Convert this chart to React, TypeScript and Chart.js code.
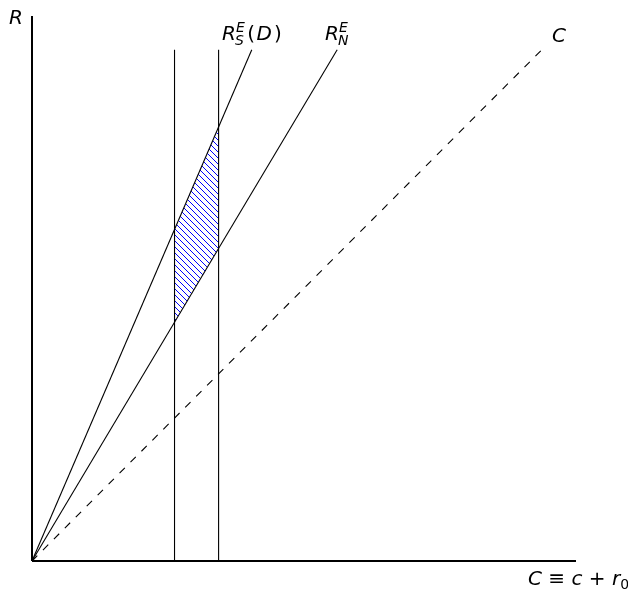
import React, { useEffect, useRef } from "react";
import { Chart, registerables } from "chart.js";

Chart.register(...registerables);

// ---- data (in chart units) ----
const xLimits = [0, 10];
const yLimits = [0, 10];
const axisXPts = [{ x: 0, y: 0 }, { x: 10, y: 0 }];
const axisYPts = [{ x: 0, y: 0 }, { x: 0, y: 10 }];
const lineRS = [{ x: 0, y: 0 }, { x: 4.04, y: 9.38 }];
const lineRN = [{ x: 0, y: 0 }, { x: 5.61, y: 9.38 }];
const lineC = [{ x: 0, y: 0 }, { x: 9.37, y: 9.38 }];
const vLineA = [{ x: 2.62, y: 0 }, { x: 2.62, y: 9.38 }];
const vLineB = [{ x: 3.43, y: 0 }, { x: 3.43, y: 9.38 }];
const hatchRegion = [
  { x: 2.62, y: 4.38 },
  { x: 2.62, y: 6.08 },
  { x: 3.43, y: 7.96 },
  { x: 3.43, y: 5.74 },
];

const FONT = '"DejaVu Sans"';

type Run = { t: string; size: number; italic?: boolean; dy?: number; sup?: string; sub?: string; gap?: number };

function drawRuns(ctx: CanvasRenderingContext2D, x: number, y: number, runs: Run[]) {
  let cx = x;
  for (const r of runs) {
    if (r.sup !== undefined || r.sub !== undefined) {
      let w = 0;
      ctx.font = `italic ${r.size}px ${FONT}`;
      if (r.sup) {
        ctx.fillText(r.sup, cx, y - 8);
        w = Math.max(w, ctx.measureText(r.sup).width);
      }
      if (r.sub) {
        ctx.fillText(r.sub, cx - 1, y + 5);
        w = Math.max(w, ctx.measureText(r.sub).width - 1);
      }
      cx += w + 1 + (r.gap || 0);
      continue;
    }
    ctx.font = `${r.italic ? "italic " : ""}${r.size}px ${FONT}`;
    ctx.fillText(r.t, cx, y + (r.dy || 0));
    cx += ctx.measureText(r.t).width + (r.gap || 0);
  }
}

function makeHatchPattern(ctx: CanvasRenderingContext2D) {
  const c = document.createElement("canvas");
  const n = 6;
  c.width = n;
  c.height = n;
  const p = c.getContext("2d")!;
  p.fillStyle = "#0000ff";
  for (let i = 0; i < n; i++) p.fillRect(i, i, 1, 1);
  return ctx.createPattern(c, "repeat");
}

const hatchPlugin = {
  id: "hatch",
  beforeDatasetsDraw(chart: any) {
    const { ctx, scales } = chart;
    const xs = scales.x;
    const ys = scales.y;
    const pts = hatchRegion.map((p) => ({ x: xs.getPixelForValue(p.x), y: ys.getPixelForValue(p.y) }));
    ctx.save();
    ctx.beginPath();
    pts.forEach((p, i) => (i === 0 ? ctx.moveTo(p.x, p.y) : ctx.lineTo(p.x, p.y)));
    ctx.closePath();
    const pat = makeHatchPattern(ctx);
    if (pat) {
      ctx.fillStyle = pat;
      ctx.fill();
    }
    ctx.restore();
  },
  afterDraw(chart: any) {
    const ctx: CanvasRenderingContext2D = chart.ctx;
    ctx.save();
    ctx.fillStyle = "#000";
    ctx.textBaseline = "alphabetic";
    drawRuns(ctx, 9, 24, [{ t: "R", size: 20, italic: true }]);
    drawRuns(ctx, 222, 40, [
      { t: "R", size: 20, italic: true },
      { t: "", size: 14, sup: "E", sub: "S", gap: 1.5 },
      { t: "(", size: 20, gap: 1.5 },
      { t: "D", size: 20, italic: true, gap: 2 },
      { t: ")", size: 20 },
    ]);
    drawRuns(ctx, 325, 40, [
      { t: "R", size: 20, italic: true },
      { t: "", size: 14, sup: "E", sub: "N" },
    ]);
    drawRuns(ctx, 552, 42, [{ t: "C", size: 20, italic: true }]);
    drawRuns(ctx, 528, 585, [
      { t: "C", size: 20, italic: true },
      { t: " \u2261 ", size: 20 },
      { t: "c", size: 20, italic: true },
      { t: " + ", size: 20 },
      { t: "r", size: 20, italic: true },
      { t: "0", size: 14, dy: 4 },
    ]);
    ctx.restore();
  },
};

function lineDs(data: { x: number; y: number }[], width: number, dash: number[] = []) {
  return {
    data,
    showLine: true,
    borderColor: "#000000",
    backgroundColor: "#000000",
    borderWidth: width,
    borderDash: dash,
    pointRadius: 0,
    pointHoverRadius: 0,
    fill: false,
    clip: false as any,
    tension: 0,
  };
}

export default function App() {
  const ref = useRef<HTMLCanvasElement | null>(null);
  useEffect(() => {
    if (!ref.current) return;
    const chart = new Chart(ref.current, {
      type: "scatter",
      data: {
        datasets: [
          lineDs(lineC, 1.1, [7.5, 8]),
          lineDs(lineRN, 1.1),
          lineDs(lineRS, 1.1),
          lineDs(vLineA, 1.1),
          lineDs(vLineB, 1.1),
          lineDs(axisXPts, 2),
          lineDs(axisYPts, 2),
        ] as any,
      },
      options: {
        animation: false,
        responsive: true,
        maintainAspectRatio: false,
        layout: { padding: { left: 32, right: 52, top: 16, bottom: 28 } },
        plugins: { legend: { display: false }, tooltip: { enabled: false } },
        events: [],
        scales: {
          x: { type: "linear", min: xLimits[0], max: xLimits[1], display: false },
          y: { type: "linear", min: yLimits[0], max: yLimits[1], display: false },
        },
      },
      plugins: [hatchPlugin],
    });
    return () => chart.destroy();
  }, []);
  return (
    <div style={{ position: "fixed", left: 0, top: 0, width: 628, height: 589, background: "#fff" }}>
      <canvas ref={ref} />
    </div>
  );
}
